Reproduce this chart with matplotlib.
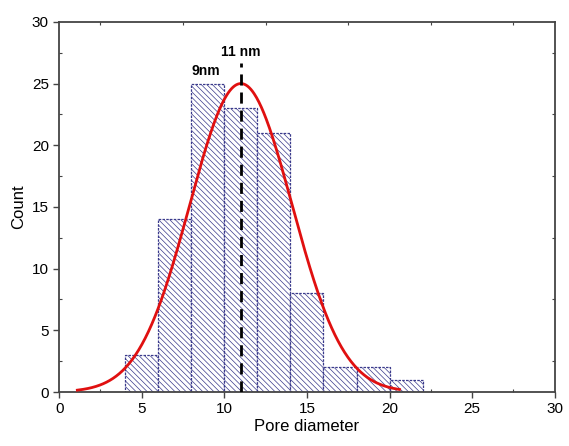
import numpy as np
import matplotlib
matplotlib.use("Agg")
import matplotlib.pyplot as plt
from matplotlib.ticker import MultipleLocator, NullFormatter

bin_edges = [4, 6, 8, 10, 12, 14, 16, 18, 20, 22]
counts = [3, 14, 25, 23, 21, 8, 2, 2, 1]
fit_mean = 11.0
fit_amp = 25.0
fit_sigma = 3.1
fit_range = (1.1, 20.6)
peak_label = "11 nm"
mode_label = "9nm"
mode_x = 8.9
frame_ticks = [2.5, 7.5, 12.5, 17.5, 22.5, 27.5]

plt.rcParams['font.family'] = ['Liberation Sans', 'DejaVu Sans']
plt.rcParams['hatch.linewidth'] = 0.5
plt.rcParams['hatch.color'] = '#55557f'

fig = plt.figure(figsize=(5.69, 4.46), dpi=100)
ax = fig.add_axes([0.104, 0.121, 0.871, 0.830])

lefts = bin_edges[:-1]
widths = np.diff(bin_edges)
ax.bar(lefts, counts, width=widths, align='edge', facecolor='white',
       edgecolor='#3a3a8c', linewidth=0.9, linestyle=(0, (2, 1)), hatch='\\' * 6, zorder=2)

xs = np.linspace(fit_range[0], fit_range[1], 400)
ys = fit_amp * np.exp(-(xs - fit_mean) ** 2 / (2 * fit_sigma ** 2))
ax.plot(xs, ys, color='#e01010', linewidth=2.0, zorder=4)

ax.plot([fit_mean, fit_mean], [0, 26.7], color='black', linestyle=(0, (4, 2.5)), linewidth=2.0, zorder=5)
ax.text(fit_mean, 27.0, peak_label, ha='center', va='bottom', fontsize=10, fontweight='bold')
ax.text(mode_x, 25.45, mode_label, ha='center', va='bottom', fontsize=10, fontweight='bold')

ax.set_xlim(0, 30)
ax.set_ylim(0, 30)
ax.xaxis.set_major_locator(MultipleLocator(5))
ax.yaxis.set_major_locator(MultipleLocator(5))
ax.xaxis.set_minor_locator(MultipleLocator(2.5))
ax.yaxis.set_minor_locator(MultipleLocator(2.5))
ax.tick_params(which='major', direction='out', length=4, width=1, labelsize=11, color='#444444')
ax.tick_params(which='minor', direction='in', length=2.5, width=0.8, color='#444444')

secx = ax.secondary_xaxis('top')
secx.set_xticks(frame_ticks)
secx.xaxis.set_major_formatter(NullFormatter())
secx.tick_params(direction='in', length=2.5, width=0.8, color='#444444')
secx.spines['top'].set_visible(False)
secy = ax.secondary_yaxis('right')
secy.set_yticks(frame_ticks)
secy.yaxis.set_major_formatter(NullFormatter())
secy.tick_params(direction='in', length=2.5, width=0.8, color='#444444')
secy.spines['right'].set_visible(False)

for s in ax.spines.values():
    s.set_linewidth(1.3)
    s.set_color('#444444')

ax.set_xlabel('Pore diameter', fontsize=12, labelpad=2)
ax.set_ylabel('Count', fontsize=12, labelpad=4)

fig.savefig('out.png', dpi=100)
